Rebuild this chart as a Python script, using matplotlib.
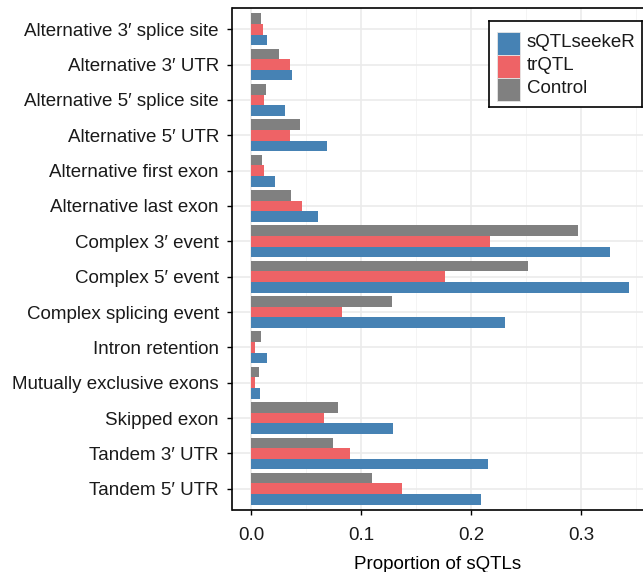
import numpy as np
import matplotlib
matplotlib.use('Agg')
import matplotlib.pyplot as plt
from matplotlib.patches import Rectangle
from matplotlib.ticker import MultipleLocator

plt.rcParams['font.family'] = ['Liberation Sans', 'DejaVu Sans']

categories = [
    'Alternative 3\u2032 splice site',
    'Alternative 3\u2032 UTR',
    'Alternative 5\u2032 splice site',
    'Alternative 5\u2032 UTR',
    'Alternative first exon',
    'Alternative last exon',
    'Complex 3\u2032 event',
    'Complex 5\u2032 event',
    'Complex splicing event',
    'Intron retention',
    'Mutually exclusive exons',
    'Skipped exon',
    'Tandem 3\u2032 UTR',
    'Tandem 5\u2032 UTR',
]
series_names = ['sQTLseekeR', 'trQTL', 'Control']
sqtlseeker = [0.0142, 0.037, 0.0307, 0.0687, 0.0217, 0.0605, 0.3263,
              0.3435, 0.2311, 0.0145, 0.0082, 0.1287, 0.2157, 0.2094]
trqtl = [0.0108, 0.0352, 0.0117, 0.0352, 0.0117, 0.0461, 0.2175,
         0.1767, 0.0825, 0.0036, 0.0036, 0.0662, 0.0897, 0.1369]
control = [0.009, 0.0253, 0.0136, 0.0443, 0.0099, 0.0361, 0.2973,
           0.252, 0.1278, 0.0091, 0.0073, 0.0789, 0.0743, 0.1097]

blue = '#4682B4'
red = '#EE6366'
gray = '#808080'
colors = [blue, red, gray]
fs = 13.5

fig = plt.figure(figsize=(6.43, 5.72), dpi=100)
ax = fig.add_axes([232.5 / 643, 1 - 510 / 572, 1 - 232.5 / 643, (510 - 8) / 572])

y = np.arange(len(categories))
h = 0.3
ax.barh(y + h, sqtlseeker, height=h, color=blue, zorder=3)
ax.barh(y, trqtl, height=h, color=red, zorder=3)
ax.barh(y - h, control, height=h, color=gray, zorder=3)

ax.set_yticks(y)
ax.set_yticklabels(categories, fontsize=fs, color='#1a1a1a')
ax.set_ylim(len(categories) - 1 + 0.6, -0.6)
ax.set_xlim(-0.0168, 0.3564)
ax.xaxis.set_minor_locator(MultipleLocator(0.05))
ax.set_xticks([0.0, 0.1, 0.2, 0.3])
ax.set_xticklabels(['0.0', '0.1', '0.2', '0.3'], fontsize=fs, color='#1a1a1a')
ax.tick_params(axis='both', which='major', length=3.8, width=1, direction='out', color='black')
ax.tick_params(axis='y', which='major', pad=6)
ax.tick_params(axis='x', which='major', pad=8.5)
ax.tick_params(axis='x', which='minor', length=0)
ax.grid(which='major', color='#EBEBEB', linewidth=1.2, zorder=0)
ax.grid(which='minor', axis='x', color='#F2F2F2', linewidth=0.6, zorder=0)
ax.set_axisbelow(True)
ax.set_xlabel('Proportion of sQTLs', fontsize=fs, labelpad=8.5)

ax.spines['right'].set_visible(False)
for s in ['left', 'bottom', 'top']:
    ax.spines[s].set_linewidth(1.2)
    ax.spines[s].set_color('black')

# legend drawn by hand (ggplot-like key layout), in pixel units of its own box
lw_, lh_ = 152.7, 86.0
lax = fig.add_axes([489 / 643, 1 - 107 / 572, lw_ / 643, lh_ / 572])
lax.set_xlim(0, lw_)
lax.set_ylim(lh_, 0)
lax.set_xticks([])
lax.set_yticks([])
for s in lax.spines.values():
    s.set_linewidth(1.2)
    s.set_color('black')
key = 23.0
for i, (name, c) in enumerate(zip(series_names, colors)):
    top = 11.3 + key * i
    lax.add_patch(Rectangle((7.7, top), key, key, facecolor=c, edgecolor='#E6E6E6', linewidth=0.6))
    lax.text(37.7, top + 14.6, name, fontsize=fs, color='#1a1a1a', va='baseline', ha='left')

fig.savefig('out.png', dpi=100)
